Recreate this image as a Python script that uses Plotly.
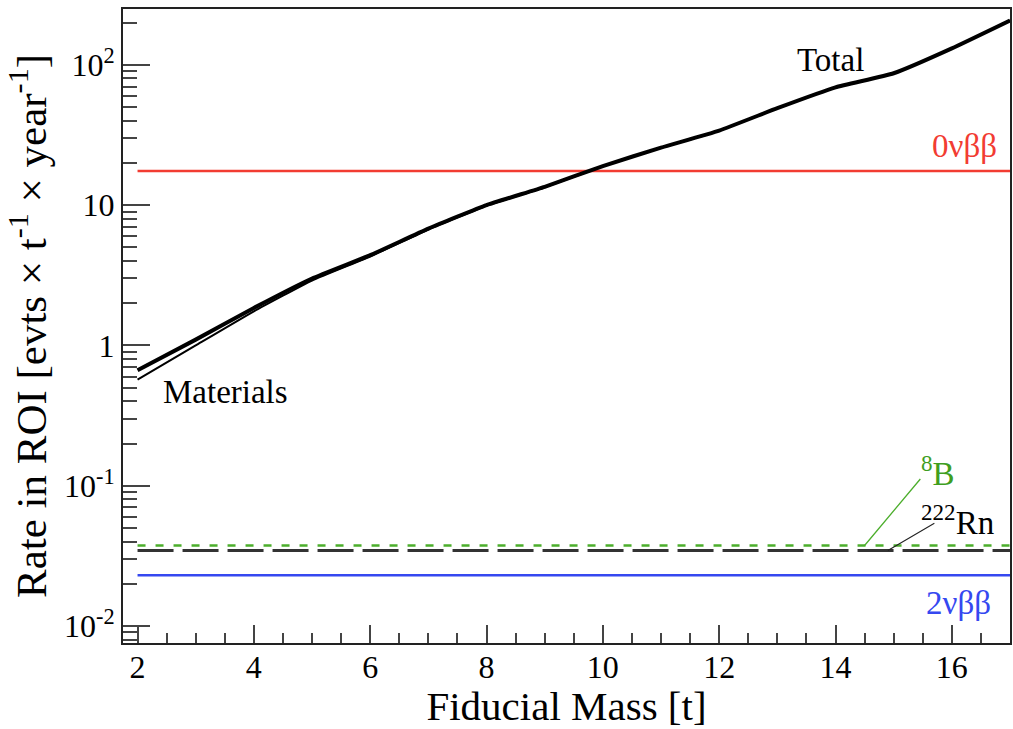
import numpy as np
import plotly.graph_objects as go

# ---------------- data ----------------
mass = [2, 3, 4, 5, 6, 7, 8, 9, 10, 11, 12, 13, 14, 15, 16, 17]
total = [0.665, 1.1, 1.85, 3.0, 4.4, 6.8, 10.0, 13.5, 19.0, 25.7, 34.0, 49.1, 69.1, 87.1, 131, 207]
materials = [0.57, 1.0, 1.75, 2.9, 4.3, 6.7, 9.9, 13.4, 18.9, 25.6, 33.9, 49.0, 69.0, 87.0, 131, 207]
x_span = [2, 17]
rate_0vbb = 17.5
rate_8B = 0.0375
rate_222Rn = 0.0346
rate_2vbb = 0.0230

y_tickvals = [0.01, 0.1, 1, 10, 100]
y_ticktext = ["10<sup>-2</sup>", "10<sup>-1</sup>", "1", "10", "10<sup>2</sup>"]
x_tickvals = [2, 4, 6, 8, 10, 12, 14, 16]

RED = "#f23c32"
BLUE = "#3548f0"
GREEN = "#4cae2c"
GREEN_TXT = "#3f9e1f"
FONT = "Liberation Serif"

fig = go.Figure()
fig.add_trace(go.Scatter(x=x_span, y=[rate_0vbb] * 2, mode="lines",
                         line=dict(color=RED, width=2.5)))
fig.add_trace(go.Scatter(x=x_span, y=[rate_2vbb] * 2, mode="lines",
                         line=dict(color=BLUE, width=2.5)))
fig.add_trace(go.Scatter(x=x_span, y=[rate_222Rn] * 2, mode="lines",
                         line=dict(color="#333333", width=3, dash="36px,9px")))
fig.add_trace(go.Scatter(x=x_span, y=[rate_8B] * 2, mode="lines",
                         line=dict(color=GREEN, width=2.5, dash="8px,10px")))
fig.add_trace(go.Scatter(x=mass, y=materials, mode="lines",
                         line=dict(color="black", width=2, shape="spline", smoothing=0.4)))
fig.add_trace(go.Scatter(x=mass, y=total, mode="lines",
                         line=dict(color="black", width=4, shape="spline", smoothing=0.4)))

lg = np.log10
ann = [
    dict(x=13.91, y=lg(108), text="Total", color="black"),
    dict(x=16.22, y=lg(26.5), text="0νββ", color=RED),
    dict(x=3.52, y=lg(0.467), text="Materials", color="black"),
    dict(x=16.12, y=lg(0.0146), text="2νββ", color=BLUE),
    dict(x=15.76, y=lg(0.128), text="<sup>8</sup>B", color=GREEN_TXT),
    dict(x=16.10, y=lg(0.0571), text="<sup>222</sup>Rn", color="black"),
]
for a in ann:
    fig.add_annotation(xref="x", yref="y", showarrow=False,
                       font=dict(family=FONT, size=33, color=a["color"]),
                       x=a["x"], y=a["y"], text=a["text"])

# leader lines (text-less arrows from label to line)
fig.add_annotation(xref="x", yref="y", x=14.5, y=lg(rate_8B), text="",
                   showarrow=True, arrowhead=0, arrowwidth=1.3, arrowcolor=GREEN,
                   ax=57, ay=-68, standoff=0, startstandoff=0)
fig.add_annotation(xref="x", yref="y", x=14.9, y=lg(rate_222Rn), text="",
                   showarrow=True, arrowhead=0, arrowwidth=1.1, arrowcolor="#222222",
                   ax=48, ay=-28, standoff=0, startstandoff=0)

fig.update_layout(
    width=1013, height=729,
    margin=dict(l=123, r=1, t=9, b=86),
    paper_bgcolor="white", plot_bgcolor="white",
    showlegend=False,
    font=dict(family=FONT, color="black"),
)
fig.update_xaxes(
    range=[1.75, 17], showgrid=False, zeroline=False,
    showline=True, linecolor="#222222", linewidth=2, mirror=True,
    ticks="inside", ticklen=18, tickwidth=1.5, tickcolor="#444444",
    tickvals=x_tickvals, tickfont=dict(size=32, family=FONT), ticklabelstandoff=-5,
    minor=dict(ticks="inside", ticklen=10, tickwidth=1.5, tickcolor="#444444", dtick=0.5),
    title=dict(text="Fiducial Mass [t]", font=dict(size=41, family=FONT), standoff=8),
)
minor_vals = [m * 10.0 ** e for e in range(-3, 3) for m in range(2, 10)]
fig.update_yaxes(
    type="log", range=[np.log10(0.00757), np.log10(250)], showgrid=False, zeroline=False,
    showline=True, linecolor="#222222", linewidth=2, mirror=True,
    ticks="inside", ticklen=27, tickwidth=1.5, tickcolor="#444444",
    tickvals=y_tickvals, ticktext=y_ticktext, tickfont=dict(size=32, family=FONT),
    minor=dict(ticks="inside", ticklen=14, tickwidth=1.5, tickcolor="#444444", tickvals=minor_vals),
    title=dict(text="Rate in ROI [evts × t<sup>-1</sup> × year<sup>-1</sup>]",
               font=dict(size=43, family=FONT), standoff=4),
)

fig.write_html("out.html", config={"displayModeBar": False},
               post_script="document.body.style.margin='0px';document.body.style.overflow='hidden';")
